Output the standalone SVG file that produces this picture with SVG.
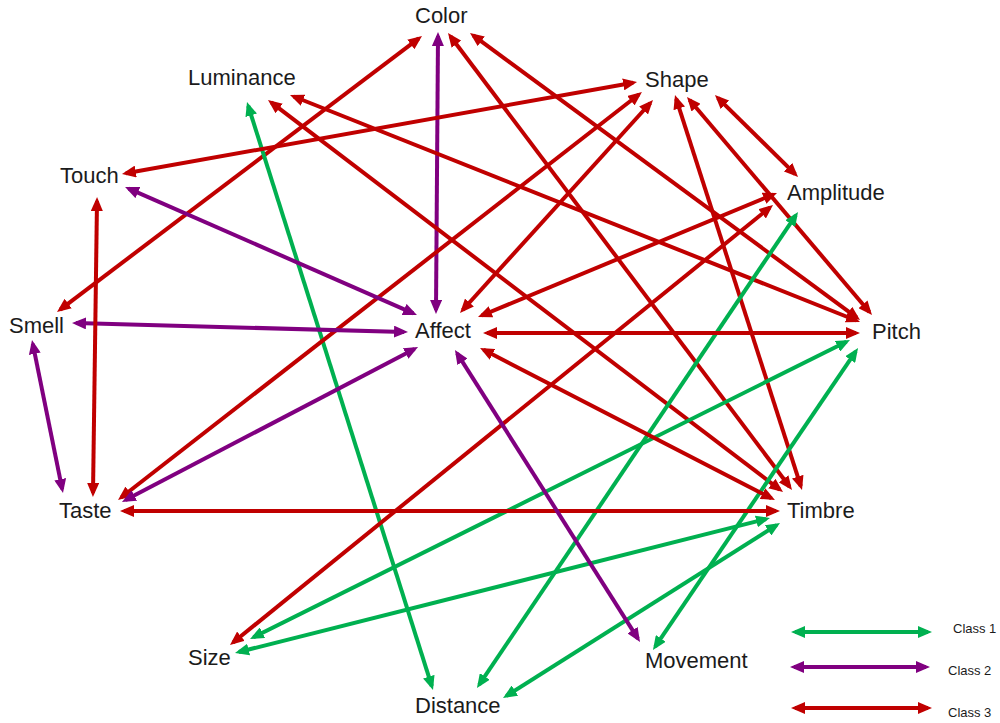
<svg xmlns="http://www.w3.org/2000/svg" width="1000" height="723" viewBox="0 0 1000 723">
<style>
.lbl{font-family:"Liberation Sans",Arial,sans-serif;font-size:22px;fill:#1b1b1b}
.leg{font-family:"Liberation Sans",Arial,sans-serif;font-size:13px;fill:#1b1b1b}
.g{stroke:#00b050;stroke-width:4;fill:none;marker-start:url(#mg);marker-end:url(#mg)}
.p{stroke:#800080;stroke-width:4;fill:none;marker-start:url(#mp);marker-end:url(#mp)}
.r{stroke:#c00000;stroke-width:4;fill:none;marker-start:url(#mr);marker-end:url(#mr)}
</style>
<defs>
<marker id="mg" viewBox="0 0 14 12" refX="10" refY="6" markerWidth="14" markerHeight="12" markerUnits="userSpaceOnUse" orient="auto-start-reverse"><path d="M0,0 L14,6 L0,12 z" fill="#00b050"/></marker>
<marker id="mp" viewBox="0 0 14 12" refX="10" refY="6" markerWidth="14" markerHeight="12" markerUnits="userSpaceOnUse" orient="auto-start-reverse"><path d="M0,0 L14,6 L0,12 z" fill="#800080"/></marker>
<marker id="mr" viewBox="0 0 14 12" refX="10" refY="6" markerWidth="14" markerHeight="12" markerUnits="userSpaceOnUse" orient="auto-start-reverse"><path d="M0,0 L14,6 L0,12 z" fill="#c00000"/></marker>
</defs>
<rect width="1000" height="723" fill="#ffffff"/>
<g id="connectors">
<line class="r" x1="60.2" y1="309.6" x2="418.8" y2="38.4"/>
<line class="p" x1="438" y1="36" x2="436" y2="310"/>
<line class="r" x1="450.4" y1="36.2" x2="789.6" y2="486.8"/>
<line class="r" x1="473.2" y1="35.4" x2="856.8" y2="317.6"/>
<line class="g" x1="248.2" y1="105.8" x2="431.8" y2="686.2"/>
<line class="r" x1="271.2" y1="102.4" x2="779.8" y2="489.6"/>
<line class="r" x1="293.7" y1="96.5" x2="856.3" y2="320.5"/>
<line class="r" x1="633.1" y1="82.7" x2="125.9" y2="173.3"/>
<line class="r" x1="638.8" y1="94.5" x2="121.2" y2="497.5"/>
<line class="r" x1="650.3" y1="103" x2="462.7" y2="310"/>
<line class="r" x1="676.2" y1="98.8" x2="800.8" y2="486.2"/>
<line class="r" x1="689.6" y1="100" x2="869.4" y2="312"/>
<line class="r" x1="717.8" y1="97.8" x2="795.2" y2="174.2"/>
<line class="r" x1="773.3" y1="194.5" x2="481.7" y2="315.5"/>
<line class="r" x1="769.9" y1="207.5" x2="233.1" y2="642.5"/>
<line class="g" x1="795.8" y1="215.3" x2="479.2" y2="684.7"/>
<line class="r" x1="487" y1="333" x2="856" y2="333"/>
<line class="g" x1="846.4" y1="341.8" x2="253.6" y2="637.2"/>
<line class="g" x1="855.8" y1="351.3" x2="655.2" y2="646.7"/>
<line class="r" x1="124" y1="511" x2="776" y2="511"/>
<line class="r" x1="483.6" y1="349.8" x2="771.4" y2="498.2"/>
<line class="g" x1="766.1" y1="519" x2="238.9" y2="652"/>
<line class="g" x1="776.6" y1="525.1" x2="506.4" y2="695.9"/>
<line class="p" x1="128.7" y1="188.6" x2="413.3" y2="313.4"/>
<line class="p" x1="76" y1="323.1" x2="404" y2="331.9"/>
<line class="p" x1="125.5" y1="500.1" x2="414.5" y2="348.9"/>
<line class="p" x1="457.1" y1="353.4" x2="637.9" y2="638.6"/>
<line class="r" x1="97" y1="201" x2="93" y2="493"/>
<line class="p" x1="32.8" y1="343.9" x2="62.2" y2="489.1"/>
</g>
<g id="node-color"><text class="lbl" x="415" y="23">Color</text></g>
<g id="node-luminance"><text class="lbl" x="188" y="85">Luminance</text></g>
<g id="node-shape"><text class="lbl" x="645" y="87">Shape</text></g>
<g id="node-touch"><text class="lbl" x="60" y="183">Touch</text></g>
<g id="node-amplitude"><text class="lbl" x="787" y="200">Amplitude</text></g>
<g id="node-smell"><text class="lbl" x="9" y="333">Smell</text></g>
<g id="node-affect"><text class="lbl" x="415" y="338">Affect</text></g>
<g id="node-pitch"><text class="lbl" x="872" y="339">Pitch</text></g>
<g id="node-taste"><text class="lbl" x="59" y="518">Taste</text></g>
<g id="node-timbre"><text class="lbl" x="787" y="518">Timbre</text></g>
<g id="node-size"><text class="lbl" x="188" y="665">Size</text></g>
<g id="node-movement"><text class="lbl" x="645" y="668">Movement</text></g>
<g id="node-distance"><text class="lbl" x="415" y="713">Distance</text></g>
<g id="legend">
<line class="g" x1="795" y1="632" x2="928" y2="632"/>
<line class="p" x1="794" y1="667" x2="926" y2="667"/>
<line class="r" x1="795" y1="708" x2="928" y2="708"/>
<text class="leg" x="953" y="633">Class 1</text>
<text class="leg" x="948" y="675">Class 2</text>
<text class="leg" x="948" y="717">Class 3</text>
</g>
</svg>
